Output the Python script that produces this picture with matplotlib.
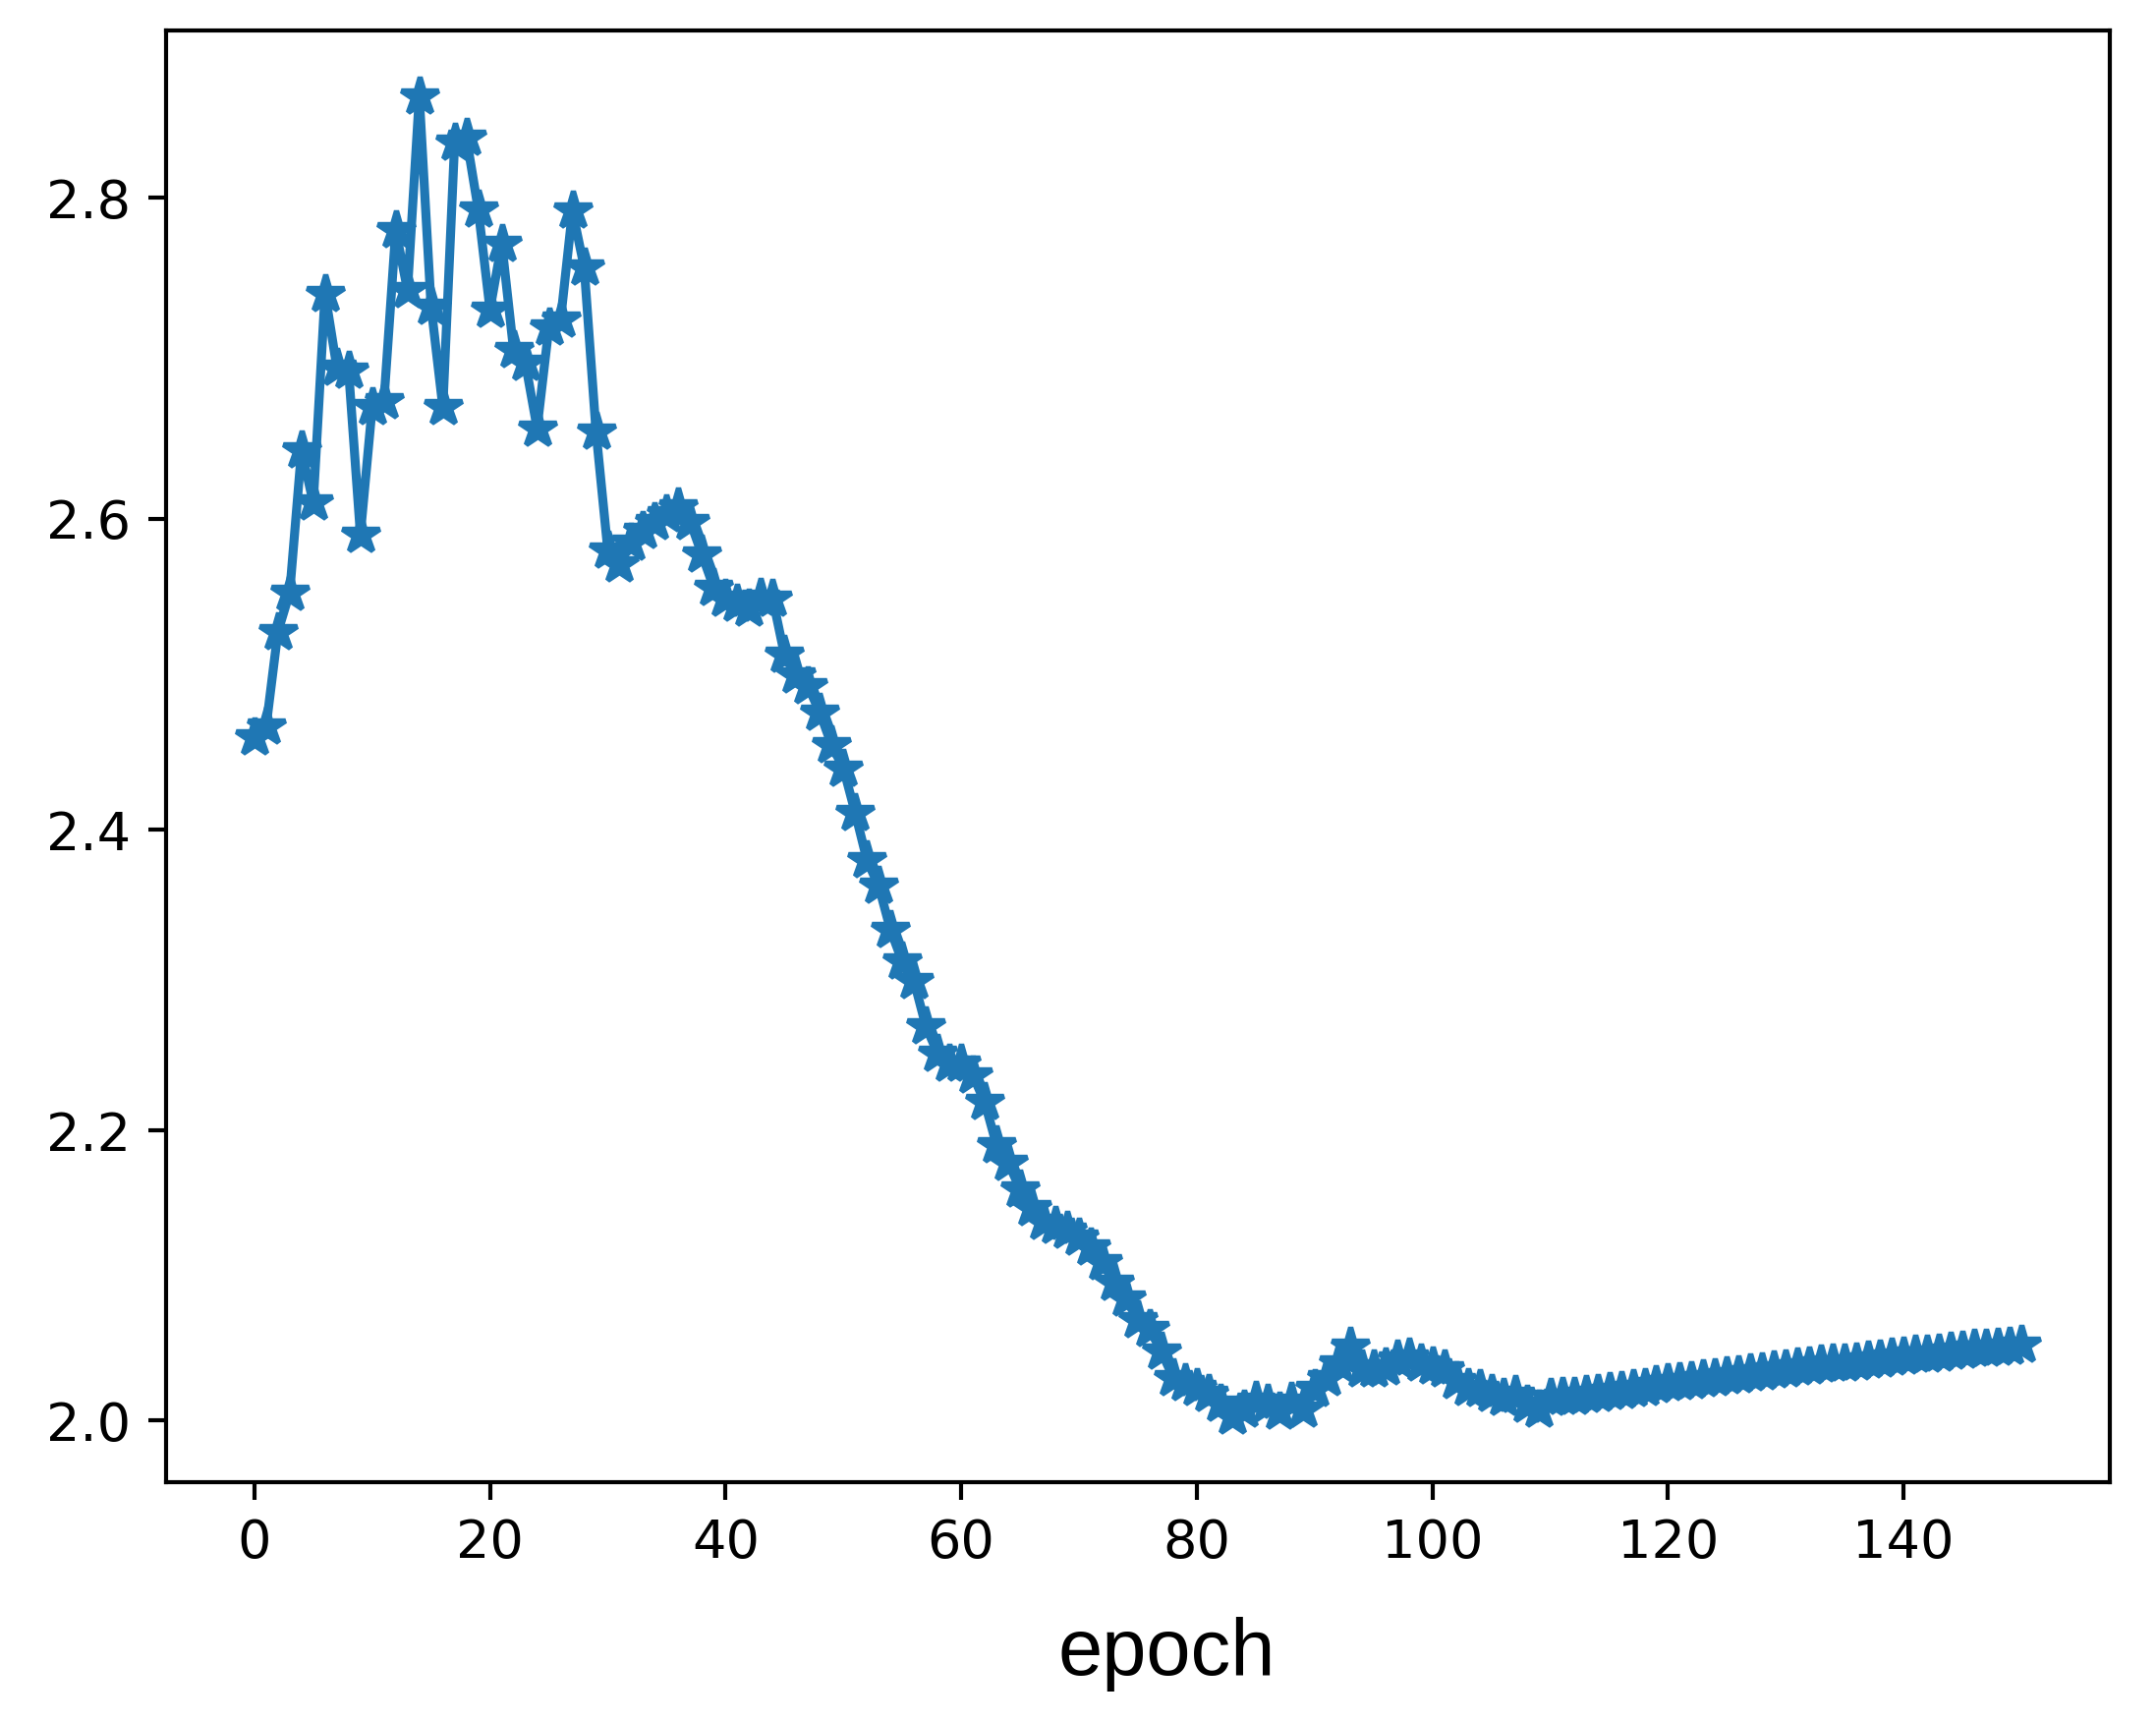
import numpy as np
import matplotlib
matplotlib.use("Agg")
import matplotlib.pyplot as plt

# loss per epoch
epochs = np.arange(151)
loss = [
    2.460, 2.467, 2.528, 2.553, 2.643, 2.610, 2.741, 2.695, 2.693, 2.590,
    2.670, 2.674, 2.780, 2.743, 2.862, 2.733, 2.670, 2.834, 2.837, 2.793,
    2.731, 2.772, 2.706, 2.698, 2.657, 2.720, 2.725, 2.792, 2.757, 2.655,
    2.580, 2.571, 2.585, 2.592, 2.598, 2.603, 2.607, 2.598, 2.577, 2.556,
    2.549, 2.546, 2.543, 2.550, 2.549, 2.513, 2.500, 2.493, 2.476, 2.455,
    2.440, 2.411, 2.380, 2.363, 2.334, 2.313, 2.300, 2.270, 2.252, 2.245,
    2.245, 2.237, 2.219, 2.190, 2.178, 2.160, 2.147, 2.138, 2.135, 2.132,
    2.127, 2.120, 2.110, 2.096, 2.085, 2.070, 2.064, 2.048, 2.030, 2.026,
    2.023, 2.019, 2.012, 2.003, 2.008, 2.014, 2.012, 2.006, 2.013, 2.008,
    2.022, 2.030, 2.040, 2.052, 2.036, 2.036, 2.037, 2.043, 2.044, 2.040,
    2.038, 2.036, 2.028, 2.023, 2.022, 2.019, 2.016, 2.018, 2.011, 2.008,
    2.016, 2.017, 2.017, 2.018, 2.019, 2.020, 2.021, 2.022, 2.023, 2.025,
    2.026, 2.027, 2.028, 2.029, 2.030, 2.031, 2.032, 2.033, 2.034, 2.035,
    2.036, 2.037, 2.038, 2.039, 2.040, 2.040, 2.041, 2.042, 2.043, 2.044,
    2.045, 2.046, 2.046, 2.047, 2.048, 2.049, 2.050, 2.050, 2.051, 2.052,
    2.053,
]
yticks = [2.0, 2.2, 2.4, 2.6, 2.8]

fig = plt.figure(figsize=(2194 / 300, 1752 / 300), dpi=300)
ax = fig.add_axes([0.0770, 0.1393, 0.9016, 0.8430])

# the y axis in the reference is stretched towards the top (power-law scale)
ax.set_yscale("function", functions=(lambda y: np.power(y, 1.4),
                                     lambda y: np.power(y, 1 / 1.4)))

ax.plot(epochs, loss, marker="*", color="#1f77b4", linewidth=2.2,
        markersize=9.5, markeredgewidth=1.3)

ax.set_yticks(yticks)
ax.set_yticklabels([f"{t:.1f}" for t in yticks])
ax.tick_params(labelsize=13, length=4.3, width=1.0, pad=4.3)
for sp in ax.spines.values():
    sp.set_linewidth(1.0)

ax.set_xlabel("epoch", fontsize=19.5, fontname="Liberation Sans")
ax.xaxis.set_label_coords(0.5147, -0.093)

fig.savefig("out.png", dpi=300)
